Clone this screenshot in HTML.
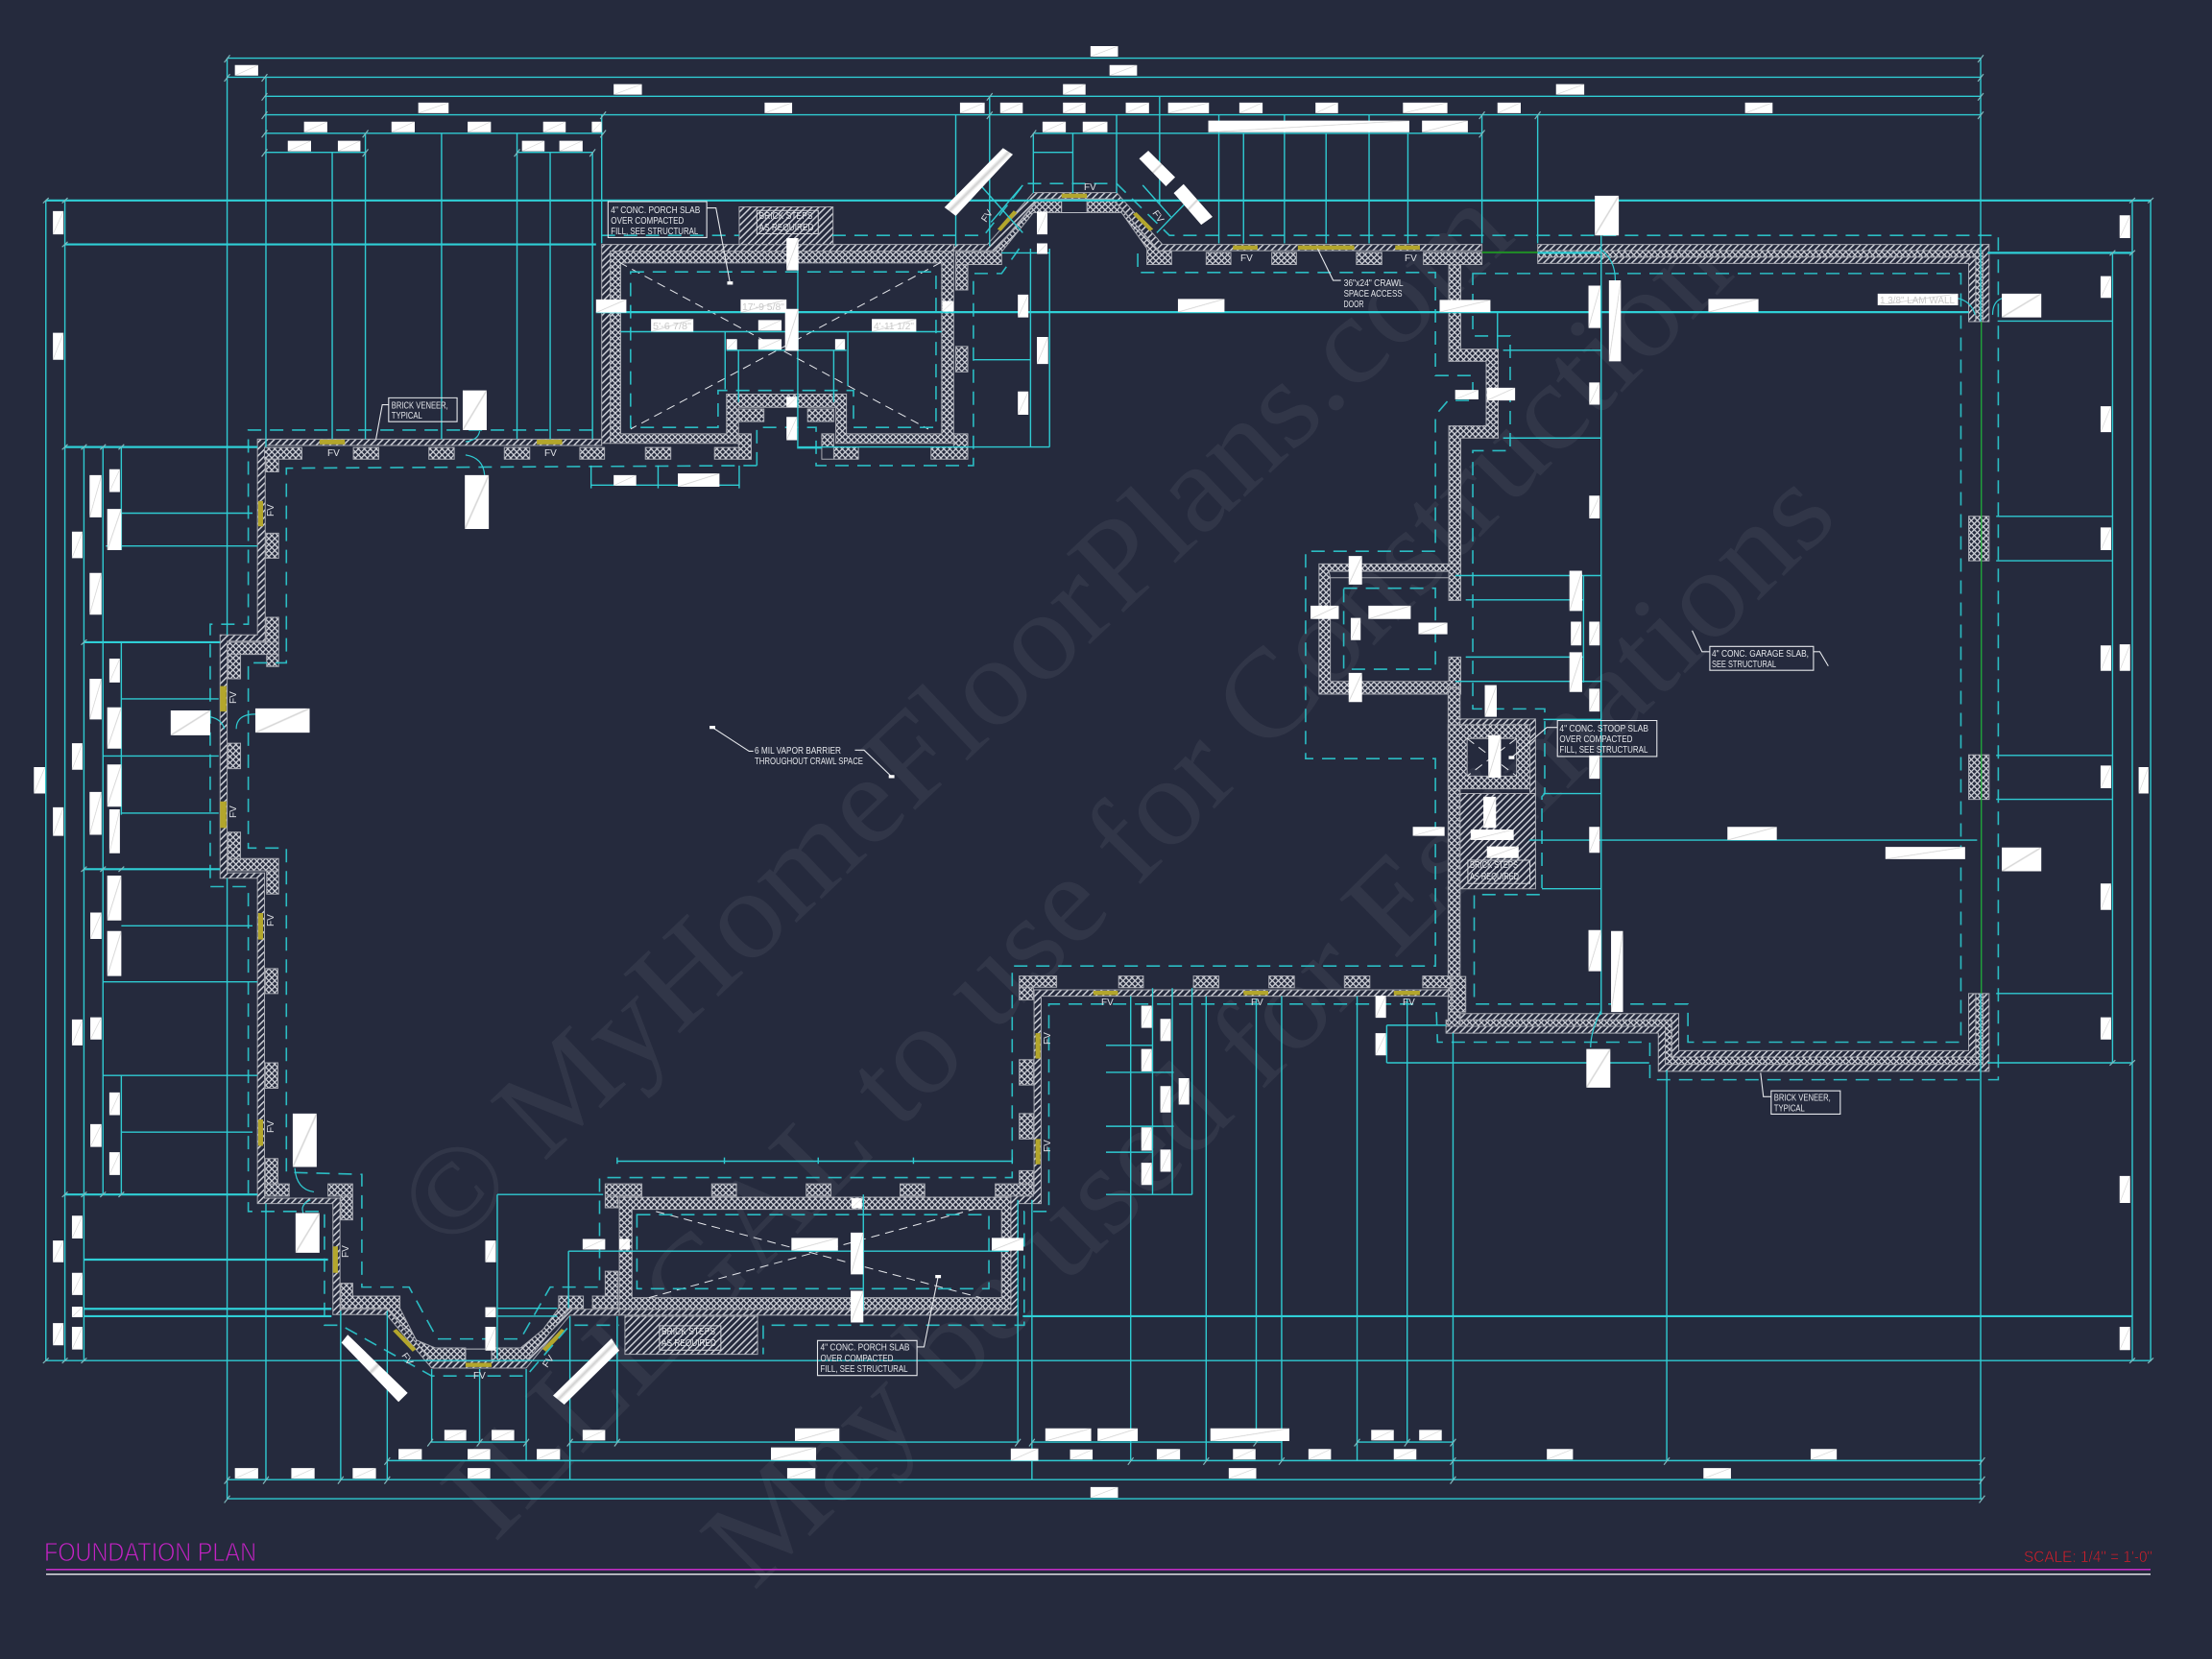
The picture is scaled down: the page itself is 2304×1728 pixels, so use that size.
<!DOCTYPE html>
<html><head><meta charset="utf-8"><title>Foundation Plan</title>
<style>
html,body{margin:0;padding:0;background:#252a3d}
svg{display:block}
svg *{vector-effect:non-scaling-stroke}
.n{font-family:"Liberation Sans",sans-serif;font-size:10.5px;fill:#e4e6ea}
.f{font-family:"Liberation Sans",sans-serif;font-size:10px;fill:#dfe1e6}
.w{font-family:"Liberation Serif",serif;font-size:130px;fill:#fff;fill-opacity:.06}
.l{font-family:"Liberation Sans",sans-serif;font-size:10px;fill:#c8c8c8}
</style></head><body>
<svg xmlns="http://www.w3.org/2000/svg" width="2304" height="1728" viewBox="0 0 2304 1728">
<defs>
<pattern id="h" width="5" height="5" patternUnits="userSpaceOnUse" patternTransform="scale(1.361,1.815) rotate(45)"><rect width="5" height="5" fill="#252a3d"/><rect width="1.5" height="5" fill="#cfd1d8"/></pattern>
<pattern id="x" width="4.4" height="4.4" patternUnits="userSpaceOnUse" patternTransform="scale(1.361,1.815) rotate(45)"><rect width="4.4" height="4.4" fill="#252a3d"/><rect width="1.25" height="4.4" fill="#d4d6dc"/><rect width="4.4" height="1.25" fill="#d4d6dc"/></pattern>
<linearGradient id="L" x1="0" y1="0" x2="1" y2="1"><stop offset="0" stop-color="#fff"/><stop offset=".47" stop-color="#fff"/><stop offset=".5" stop-color="#d0d0d0"/><stop offset=".53" stop-color="#fff"/><stop offset="1" stop-color="#fff"/></linearGradient>
</defs>
<rect width="2304" height="1728" fill="#252a3d"/>
<!-- watermark -->
<text class="w" transform="translate(465,1307) rotate(-43.5)" textLength="1538" lengthAdjust="spacingAndGlyphs">© MyHomeFloorPlans.com</text>
<text class="w" transform="translate(515,1608) rotate(-45.6)" textLength="1849" lengthAdjust="spacingAndGlyphs">ILLEGAL to use for Construction</text>
<text class="w" transform="translate(785,1658) rotate(-44.6)" textLength="1590" lengthAdjust="spacingAndGlyphs">May be used for Estimations</text>

<g transform="scale(.734694,.551020)">
<!-- brick/hatched areas -->
<g fill="url(#h)" stroke="#a8aab2" stroke-width="1">
<path d="M853 830H365V1200H312V1660H365V2275H472V2485H548L612 2586H746L808 2486H878V2475H802L742 2573H616L553 2475H482V2265H375V1650H322V1212H376V842H853z"/>
<path d="M2058 1871H1466V2255H1433V2475H878V2486H1443V2275H1476V1883H2058z"/>
<path d="M1352 462H1400L1465 364H1583L1648 462H2101V474H1643L1578 376H1472L1410 474H1352z"/>
<path d="M853 462H1352V475H865V838H853z"/>
<path d="M1048 391H1181V462H1048z"/>
<path d="M886 2488H1074V2560H886z"/>
<path d="M2180 462H2820V608H2811V474H2180z"/>
<path d="M2180 486H2801V608H2791V498H2180z"/>
<path d="M2070 1916H2380V1986H2791V1878H2801V1998H2370V1928H2070z"/>
<path d="M2050 1940H2361V2012H2811V1878H2820V2025H2351V1953H2050z"/>
<path d="M2062 1500H2177V1680H2070z"/>
<path d="M2062 1359H2177V1500H2169V1370H2062z"/>
</g>
<!-- crosshatch -->
<g fill="url(#x)" stroke="#a8aab2" stroke-width="1" fill-rule="evenodd">
<path d="M865 475H1352V838H1185V770H1047V838H865z M880 497H1335V820H1200V745H1030V820H880z"/>
<path d="M878 2263H1433V2475H878z M896 2286H1420V2453H896z"/>
<path d="M2180 474H2811V608H2801V486H2180z"/>
<path d="M2050 1928H2370V1998H2801V1878H2811V2012H2361V1940H2050z"/>
<path d="M2054 500H2071V660H2124V828H2071V1067H2054V805H2107V683H2054z"/>
<path d="M1870 1066H2071V1135H2054V1092H1886V1288H2054V1242H2071V1312H1870z M1884 1080H2054V1092H1886z"/>
<path d="M2053 1300H2070V1940H2053z"/>
<path d="M2053 1370H2169V1491H2053z M2080 1396H2150V1467H2080z"/>
<path d="M375 846H428V868H375z M501 846H537V868H501z M608 846H644V868H608z M715 846H751V868H715z M822 846H857V868H822z M915 846H951V868H915z M1013 846H1065V868H1013z"/>
<path d="M377 868H395V892H377z M377 1008H395V1055H377z M377 1167H395V1214H377z M322 1214H395V1237H322z M378 1237H395V1260H378z M323 1237H341V1283H323z M323 1405H341V1453H323z M323 1573H341V1623H323z M323 1623H395V1646H323z M378 1646H395V1690H378z"/>
<path d="M376 1831H394V1878H376z M376 2009H394V2057H376z M376 2190H394V2238H376z M376 2238H410V2261H376z M465 2238H500V2261H465z M483 2261H500V2306H483z M483 2426H500V2473H483z"/>
<path d="M500 2450H567V2473L590 2533L617 2548H660V2573H612L548 2473H483V2426H500z"/>
<path d="M697 2548H738L770 2513L792 2473V2450H827V2473H808L746 2573H697z"/>
<path d="M840 2450H876V2473H840z M858 2403H876V2450H858z"/>
<path d="M858 2238H910V2261H858z M876 2261H858V2283H876z M1009 2238H1044V2261H1009z M1143 2238H1178V2261H1143z M1276 2238H1311V2261H1276z M1411 2238H1465V2261H1411z M1445 2213H1465V2238H1445z M1445 2003H1465V2051H1445z M1445 2105H1465V2153H1445z M1445 1845H1498V1866H1445z M1445 1866H1465V1890H1445z"/>
<path d="M1586 1845H1621V1867H1586z M1692 1845H1728V1867H1692z M1799 1845H1835V1867H1799z M1906 1845H1942V1867H1906z M2017 1845H2056V1867H2017z M2058 1846H2078V1913H2058z"/>
<path d="M1047 773H1083V797H1047z M1145 773H1182V797H1145z M1047 820H1065V868H1047z M1165 820H1182V868H1165z M1165 845H1217V868H1165z M1320 845H1372V868H1320z M1352 820H1372V845H1352z M1355 500H1372V548H1355z M1355 655H1372V703H1355z"/>
<path d="M1355 476H1410L1472 378H1505V402H1465L1420 476V500H1355z"/>
<path d="M1541 377H1578L1643 475H1661V500H1626V470L1590 402H1541z"/>
<path d="M1710 477H1745V500H1710z M1803 477H1838V500H1803z M1923 477H1959V500H1923z M2018 477H2101V500H2018z"/>
<path d="M2791 976H2820V1060H2791z M2791 1427H2820V1511H2791z"/>
</g>
<g fill="#252a3d" stroke="#b8bac2" stroke-width="1"><path d="M1505 378H1541V402H1505z M660 2550H697V2572H660z"/></g>
<!-- yellow FV vents -->
<g fill="#b3a62c">
<path d="M453 831H489V840H453z M761 831H797V840H761z M366 947H373V995H366z M312 1297H321V1345H312z M312 1515H321V1565H312z M366 1726H373V1776H366z M366 2116H373V2166H366z M472 2356H479V2406H472z M660 2576H697V2584H660z M1468 1953H1475V2001H1468z M1468 2153H1475V2201H1468z M1550 1873H1585V1881H1550z M1763 1873H1798V1881H1763z M1976 1873H2013V1881H1976z M1505 366H1541V374H1505z M1748 464H1783V472H1748z M1840 464H1920V472H1840z M1978 464H2013V472H1978z"/>
<path d="M557 2516L562 2512L590 2550L585 2555z M796 2512L802 2516L774 2555L769 2550z M1414 433L1437 398L1442 402L1419 437z M1606 405L1611 401L1635 433L1630 437z"/>
</g>
<!-- green -->
<path d="M2101 477H2180" stroke="#1f8f25" stroke-width="2" fill="none"/>
<path d="M2809 608V1878" stroke="#1fb83a" stroke-width="1.2" fill="none"/>
<!-- dashed white X -->
<g fill="none" stroke="#e6e8ec" stroke-width="1" stroke-dasharray="9 6">
<path d="M878 496L1316 811M1334 496L894 811"/>
<path d="M930 2290L1390 2453M920 2453L1380 2286"/>
<path d="M2080 1396L2150 1467M2150 1396L2080 1467"/>
</g>
<!-- dashed cyan foundation -->
<g fill="none" stroke="#2bbcc3" stroke-width="1.6" stroke-dasharray="14 9">
<path d="M840 813H352V1180H298V1676H352V2290H460V2505H483L612 2601H746L808 2505H878"/>
<path d="M1073 880L406 885V1253H352V1603H406V2216L513 2220V2433H580L620 2531H738L780 2433H850V2226H1435V1826H2035V1434H1851V1042H2035V785L2053 757H2088V710H2035V515H1613V470"/>
<path d="M1073 880V808H1157V880H1380V517H1420L1445 470"/>
<path d="M853 445H1048M1180 445H1395L1452 347H1583L1658 445H2833V2041H2339V1970H2038L2036 1898H1487V2290H1452V2505H1082V2560"/>
<path d="M2088 517H2780V1970H2393V1898H2090V1691H2186V1506L2190 1500V1340H2088V852H2141V635H2088z"/>
<path d="M894 514H1327V808H1210V738H1018V808H894z"/>
<path d="M903 2296H1402V2436H903z"/>
<path d="M1905 1112H2035V1265H1905z"/>
</g>
<!-- dim lines thin -->
<g fill="none" stroke="#2fcbd2" stroke-width="1.4">
<path d="M322 110H2808M322 146H2808M375 182H2808M375 217H2808M375 252H855M1465 252H2101M375 288H518M733 288H840M1465 288H1521"/>
<path d="M322 110V1200M322 1660V2833M377 146V845M377 2275V2798M471 288V830M518 252V830M626 252V830M733 252V830M780 288V830M840 288V830M853 217V460M1355 217V465M1403 182V465M1465 252V365M1521 252V365M1583 217V365M1644 182V385M1728 217V460M1763 252V460M1821 217V460M1880 252V460M1941 217V460M1996 252V460M2101 217V460M2180 217V460M2808 110V608M2808 1878V2833"/>
<path d="M65 379V2572M92 379V2572M119 845V2572M146 845V2258M172 845V1040M172 1214V1540M172 2033V2258M3049 379V2572M3023 379V2572M2995 478V2009"/>
<path d="M65 2572H3050M92 845H365M172 970H358M150 1032H365M172 1321H310M146 1429H310M172 1537H310M172 1750H358M146 1856H365M146 2033H365M172 2140H358"/>
<path d="M838 917H1048M838 880V923M933 880V923M1048 880V923M880 627H1335M1030 662H1200M1028 627V736M1047 662V760M1182 662V760M1202 627V730M1131 500V847H1165M1132 845H1488M1380 680H1461M1420 478H1488M1461 470V845M1488 470V845"/>
<path d="M1390 350L1450 440M1405 420L1450 350M1620 350L1660 410M1640 440L1680 385"/>
<path d="M2123 590V660M2131 662H2270M2131 828H2270M2063 1088H2270M2078 1134H2245M2078 1242H2245M2063 1288H2270M2188 1360H2270M2188 1500H2270M2186 1680H2270M2245 1088V1290M2270 380V1918"/>
<path d="M2832 607H2995M2830 976H2995M2830 1060H2995M2830 1428H2995M2830 1511H2995M2830 1878H2995M2818 2009H3023M1966 1938V2009M1966 1938H2050M1966 2009H2338"/>
<path d="M1568 1976H1634M1568 2027H1664M1568 2129H1664M1568 2178H1634M1568 2258H1690M1634 1868V2258M1662 1868V2258M1690 1868V2258"/>
<path d="M705 2258H855M705 2258V2568M705 2473H790M705 2488H790M806 2365V2473M806 2365H1430M1224 2258V2478"/>
<path d="M875 2195H1435M875 2188V2200M1027 2188V2200M1160 2188V2200M1295 2188V2200M1435 2188V2200"/>
<path d="M610 2726H746M808 2726H1443M1463 2726H1818M1924 2726H2060M548 2761H2810M322 2797H2810M322 2833H2810"/>
<path d="M483 2478V2797M549 2478V2797M612 2588V2726M680 2588V2726M746 2588V2761M808 2488V2797M875 2488V2726M1443 2268V2726M1463 2268V2797M1603 1883V2761M1710 1883V2761M1781 1888V2726M1817 1883V2761M1924 1883V2761M1995 1888V2726M2060 1953V2797M2363 2023V2761"/>
<path d="M2168 1588H2803"/>
</g>
<!-- dim lines thick -->
<g fill="none" stroke="#2fcfd6" stroke-width="2.2">
<path d="M65 379H3050M92 462H845M92 845H365M119 1214H312M119 1643H312M92 2258H365M119 2381H465M119 2474H470M119 2488H470M1450 2488H3023M845 590H2791M2818 478H3023M2180 478H2268"/>
</g>
<!-- ticks -->
<g fill="none" stroke="#7fb8bc" stroke-width="1.2">
<path d="M318 118l8 -14M318 154l8 -14M371 154l8 -14M371 190l8 -14M371 225l8 -14M371 260l8 -14M371 296l8 -14M2804 118l8 -14M2804 154l8 -14M2804 190l8 -14M2804 225l8 -14M851 225l8 -14M851 260l8 -14M514 260l8 -14M514 296l8 -14M729 296l8 -14M836 296l8 -14M1399 190l8 -14M1399 225l8 -14M1461 260l8 -14M2097 225l8 -14M2097 260l8 -14M2176 225l8 -14"/>
<path d="M61 384l8 -10M88 384l8 -10M88 467l8 -10M88 850l8 -10M115 850l8 -10M142 850l8 -10M168 850l8 -10M115 1219l8 -10M115 1648l8 -10M142 1648l8 -10M168 1648l8 -10M3019 384l8 -10M3045 384l8 -10M3019 483l8 -10M2991 483l8 -10M2991 2014l8 -10M3019 2014l8 -10M61 2577l8 -10M88 2577l8 -10M115 2577l8 -10M3019 2577l8 -10M3045 2577l8 -10M88 2263l8 -10M115 2263l8 -10M142 2263l8 -10M168 2263l8 -10"/>
<path d="M318 2805l8 -14M318 2841l8 -14M373 2805l8 -14M479 2805l8 -14M545 2805l8 -14M545 2769l8 -14M606 2734l8 -14M676 2734l8 -14M742 2734l8 -14M804 2734l8 -14M871 2734l8 -14M1439 2734l8 -14M1459 2734l8 -14M2806 2769l8 -14M2806 2805l8 -14M2806 2841l8 -14M2056 2769l8 -14M2056 2805l8 -14M2056 2734l8 -14M1920 2734l8 -14M1991 2734l8 -14M1777 2734l8 -14M1813 2769l8 -14M1706 2769l8 -14M1599 2769l8 -14M2359 2769l8 -14"/>
</g>
<!-- curved leaders -->
<g fill="none" stroke="#2fcbd2" stroke-width="1.2">
<path d="M680 815Q678 832 660 835M660 860Q685 865 687 898M298 1355Q315 1360 318 1378M362 1350Q335 1350 335 1378M418 2208Q420 2248 445 2253M440 2268Q425 2278 430 2293"/>
<path d="M2268 470Q2290 490 2290 530M2776 564Q2795 570 2800 595M2838 564Q2825 570 2825 595M2270 1910Q2255 1950 2255 1980"/>
</g>
<!-- note boxes and leaders -->
<g fill="none" stroke="#e4e6ea" stroke-width="1.1">
<path d="M862 381H1002V449H862z M551 752H648V797H551z M2424 1222H2571V1267H2424z M2208 1362H2349V1430H2208z M2511 2062H2609V2106H2511z M1159 2534H1300V2600H1159z"/>
<path d="M1002 393H1015L1035 535M551 765H542L533 830M1010 1375L1062 1420H1068M1212 1418H1225L1264 1468M1868 470L1890 530H1901M2399 1192L2413 1232H2424M2571 1232H2580L2592 1259M2208 1375H2193L2143 1432M2496 2028L2500 2073H2511M1300 2546H1310L1330 2413"/>
</g>
<g fill="none" stroke="#d0d2d8" stroke-width="1"><path d="M1073 398H1160V442H1073z M935 2506H1022V2552H935z M2081 1626H2169V1670H2081z"/></g>
<g fill="#fff"><path d="M1031 532h8v6h-8z M1006 1372h8v6h-8z M1260 1465h8v6h-8z M1326 2410h8v6h-8z M2139 1429h8v6h-8z"/></g>
<!-- white dimension labels -->
<g fill="url(#L)">
<path d="M1546 87H1585V107H1546z"/><path d="M333 123H366V143H333z"/><path d="M870 159H910V179H870z"/><path d="M1507 159H1539V179H1507z"/><path d="M593 194H636V214H593z"/><path d="M1084 194H1123V214H1084z"/><path d="M1361 194H1396V214H1361z"/><path d="M1418 194H1450V214H1418z"/><path d="M1507 194H1539V214H1507z"/><path d="M431 230H464V250H431z"/><path d="M555 230H588V250H555z"/><path d="M663 230H696V250H663z"/><path d="M770 230H802V250H770z"/><path d="M839 230H853V250H839z"/><path d="M1478 230H1511V250H1478z"/><path d="M1535 230H1570V250H1535z"/><path d="M408 266H441V286H408z"/><path d="M479 266H511V286H479z"/><path d="M740 266H772V286H740z"/><path d="M793 266H826V286H793z"/>
<path d="M1573 123H1612V143H1573z"/><path d="M2206 159H2246V179H2206z"/><path d="M1596 194H1629V214H1596z"/><path d="M1656 194H1714V214H1656z"/><path d="M1757 194H1790V214H1757z"/><path d="M1865 194H1897V214H1865z"/><path d="M1989 194H2052V214H1989z"/><path d="M2123 194H2156V214H2123z"/><path d="M2474 194H2513V214H2474z"/><path d="M1713 228H1998V250H1713z"/><path d="M2016 228H2081V250H2016z"/>
<path d="M1422 280L1436 292L1355 408L1339 392z"/><path d="M1628 285L1666 335L1653 352L1615 300z"/><path d="M1678 348L1719 410L1703 425L1664 365z"/>
<path d="M493 2523L578 2633L565 2650L484 2538z"/><path d="M867 2530L878 2553L800 2655L784 2638z"/>
<path d="M75 399H90V443H75z"/><path d="M75 629H90V680H75z"/><path d="M1115 450H1132V511H1115z"/><path d="M845 566H888V591H845z"/><path d="M1050 566H1115V591H1050z"/><path d="M923 603H983V627H923z"/><path d="M1075 605H1108V625H1075z"/><path d="M1236 603H1299V627H1236z"/><path d="M1075 641H1108V661H1075z"/><path d="M1030 641H1045V661H1030z"/><path d="M1184 641H1198V661H1184z"/><path d="M1113 584H1132V663H1113z"/><path d="M1336 569H1352V589H1336z"/><path d="M1443 557H1458V600H1443z"/><path d="M1470 637H1486V688H1470z"/><path d="M1443 740H1458V784H1443z"/><path d="M1470 400H1485V443H1470z"/><path d="M1470 460H1485V480H1470z"/><path d="M1115 750H1130V770H1115z"/><path d="M1115 788H1130V832H1115z"/><path d="M656 738H690V813H656z"/><path d="M659 898H693V1000H659z"/><path d="M870 898H902V918H870z"/><path d="M961 895H1020V920H961z"/>
<path d="M127 898H144V978H127z"/><path d="M155 887H170V930H155z"/><path d="M152 962H172V1040H152z"/><path d="M102 1005H117V1055H102z"/><path d="M127 1083H144V1162H127z"/><path d="M155 1245H170V1290H155z"/><path d="M127 1283H144V1360H127z"/><path d="M152 1337H172V1415H152z"/><path d="M102 1405H117V1455H102z"/><path d="M127 1497H144V1578H127z"/><path d="M152 1445H172V1525H152z"/><path d="M48 1450H64V1500H48z"/><path d="M75 1526H90V1580H75z"/><path d="M155 1530H170V1613H155z"/><path d="M242 1343H298V1390H242z"/><path d="M362 1339H439V1385H362z"/>
<path d="M152 1655H172V1740H152z"/><path d="M128 1725H144V1775H128z"/><path d="M152 1760H172V1845H152z"/><path d="M102 1927H117V1976H102z"/><path d="M128 1923H144V1965H128z"/><path d="M155 2065H170V2108H155z"/><path d="M128 2125H144V2168H128z"/><path d="M155 2178H170V2221H155z"/><path d="M102 2298H117V2341H102z"/><path d="M75 2345H90V2386H75z"/><path d="M102 2406H117V2448H102z"/><path d="M102 2470H117V2490H102z"/><path d="M75 2501H90V2543H75z"/><path d="M102 2508H117V2551H102z"/>
<path d="M415 2105H449V2206H415z"/><path d="M419 2293H453V2368H419z"/><path d="M688 2345H703V2386H688z"/><path d="M688 2471H703V2490H688z"/><path d="M688 2508H703V2553H688z"/><path d="M826 2342H858V2362H826z"/><path d="M878 2342H893V2362H878z"/><path d="M1122 2340H1188V2364H1122z"/><path d="M1206 2330H1224V2409H1206z"/><path d="M1206 2440H1224V2500H1206z"/><path d="M1406 2340H1451V2364H1406z"/><path d="M1207 2265H1222V2284H1207z"/>
<path d="M630 2703H661V2723H630z"/><path d="M697 2703H729V2723H697z"/><path d="M826 2703H858V2723H826z"/><path d="M1127 2700H1190V2724H1127z"/><path d="M1482 2700H1547V2724H1482z"/><path d="M1556 2700H1613V2724H1556z"/><path d="M565 2739H598V2759H565z"/><path d="M663 2739H695V2759H663z"/><path d="M761 2739H794V2759H761z"/><path d="M1093 2736H1157V2760H1093z"/><path d="M1433 2738H1472V2761H1433z"/><path d="M1517 2740H1549V2759H1517z"/><path d="M333 2775H366V2795H333z"/><path d="M413 2775H446V2795H413z"/><path d="M500 2775H533V2795H500z"/><path d="M663 2775H695V2795H663z"/><path d="M1116 2775H1156V2795H1116z"/><path d="M1546 2811H1585V2831H1546z"/>
<path d="M1716 2700H1828V2724H1716z"/><path d="M1944 2703H1976V2723H1944z"/><path d="M2012 2703H2044V2723H2012z"/><path d="M1640 2739H1673V2759H1640z"/><path d="M1748 2739H1780V2759H1748z"/><path d="M1855 2739H1887V2759H1855z"/><path d="M1976 2739H2008V2759H1976z"/><path d="M2193 2739H2230V2759H2193z"/><path d="M2567 2739H2604V2759H2567z"/><path d="M1742 2775H1781V2795H1742z"/><path d="M2415 2775H2454V2795H2415z"/>
<path d="M1618 1901H1633V1943H1618z"/><path d="M1645 1926H1660V1968H1645z"/><path d="M1618 1983H1633V2025H1618z"/><path d="M1645 2053H1660V2103H1645z"/><path d="M1671 2038H1686V2088H1671z"/><path d="M1618 2131H1633V2175H1618z"/><path d="M1645 2173H1660V2215H1645z"/><path d="M1618 2198H1633V2240H1618z"/><path d="M1950 1882H1965V1924H1950z"/><path d="M1950 1953H1965V1995H1950z"/><path d="M2249 1983H2283V2056H2249z"/><path d="M2252 1758H2270V1836H2252z"/><path d="M2284 1760H2301V1913H2284z"/>
<path d="M2978 1670H2993V1720H2978z"/><path d="M2978 1923H2993V1965H2978z"/><path d="M3005 2223H3020V2274H3005z"/><path d="M3005 2508H3020V2552H3005z"/><path d="M2838 1602H2894V1647H2838z"/><path d="M2673 1601H2786V1624H2673z"/><path d="M2085 1568H2146V1588H2085z"/><path d="M2108 1600H2153V1622H2108z"/><path d="M2003 1563H2048V1580H2003z"/><path d="M2449 1563H2519V1588H2449z"/><path d="M2253 1563H2268V1612H2253z"/>
<path d="M2261 370H2295V445H2261z"/><path d="M1670 565H1736V590H1670z"/><path d="M2041 567H2113V590H2041z"/><path d="M2422 565H2493V590H2422z"/><path d="M2252 540H2269V620H2252z"/><path d="M2281 530H2298V683H2281z"/><path d="M2662 555H2776V577H2662z"/><path d="M2838 555H2894V600H2838z"/><path d="M3005 407H3020V450H3005z"/><path d="M2978 522H2993V563H2978z"/><path d="M2978 768H2993V817H2978z"/><path d="M2978 997H2993V1040H2978z"/><path d="M2978 1220H2993V1268H2978z"/><path d="M3005 1218H3020V1268H3005z"/><path d="M2978 1447H2993V1490H2978z"/><path d="M3032 1450H3046V1500H3032z"/>
<path d="M2063 737H2096V755H2063z"/><path d="M2108 733H2148V757H2108z"/><path d="M2253 723H2268V765H2253z"/><path d="M2253 937H2268V980H2253z"/><path d="M2225 1079H2243V1155H2225z"/><path d="M2227 1175H2242V1220H2227z"/><path d="M2253 1175H2268V1220H2253z"/><path d="M2225 1233H2243V1308H2225z"/><path d="M2253 1302H2268V1345H2253z"/><path d="M2253 1428H2268V1472H2253z"/><path d="M2105 1295H2122V1355H2105z"/><path d="M1912 1051H1931V1105H1912z"/><path d="M1858 1145H1898V1170H1858z"/><path d="M1940 1145H2000V1170H1940z"/><path d="M2011 1177H2052V1199H2011z"/><path d="M1915 1168H1929V1210H1915z"/><path d="M1912 1272H1931V1327H1912z"/><path d="M2110 1390H2128V1470H2110z"/><path d="M2103 1506H2121V1565H2103z"/>
</g>
</g>

<!-- faint label text -->
<g>
<text class="l" x="773" y="323" textLength="44" lengthAdjust="spacingAndGlyphs">17'-9 5/8"</text>
<text class="l" x="680" y="343" textLength="40" lengthAdjust="spacingAndGlyphs">5'-6 7/8"</text>
<text class="l" x="910" y="343" textLength="42" lengthAdjust="spacingAndGlyphs">4'-11 1/2"</text>
<text class="l" x="1958" y="316" textLength="78" lengthAdjust="spacingAndGlyphs">1 3/8" LAM WALL</text>
</g>

<!-- notes -->
<g>
<text class="n" x="636.3" y="222" textLength="93" lengthAdjust="spacingAndGlyphs">4" CONC. PORCH SLAB</text>
<text class="n" x="636.3" y="233" textLength="76" lengthAdjust="spacingAndGlyphs">OVER  COMPACTED</text>
<text class="n" x="636.3" y="244" textLength="91" lengthAdjust="spacingAndGlyphs">FILL, SEE STRUCTURAL</text>
<text class="n" x="790.5" y="228" textLength="56" lengthAdjust="spacingAndGlyphs">BRICK STEPS</text>
<text class="n" x="790.5" y="240" textLength="57" lengthAdjust="spacingAndGlyphs">AS REQUIRED</text>
<text class="n" x="407.8" y="425.4" textLength="59" lengthAdjust="spacingAndGlyphs">BRICK VENEER,</text>
<text class="n" x="407.8" y="436" textLength="32" lengthAdjust="spacingAndGlyphs">TYPICAL</text>
<text class="n" x="786" y="785" textLength="90" lengthAdjust="spacingAndGlyphs">6 MIL VAPOR BARRIER</text>
<text class="n" x="786" y="796" textLength="113" lengthAdjust="spacingAndGlyphs">THROUGHOUT CRAWL SPACE</text>
<text class="n" x="1399.6" y="298" textLength="62" lengthAdjust="spacingAndGlyphs">36"x24" CRAWL</text>
<text class="n" x="1399.6" y="309" textLength="61" lengthAdjust="spacingAndGlyphs">SPACE ACCESS</text>
<text class="n" x="1399.6" y="320" textLength="21" lengthAdjust="spacingAndGlyphs">DOOR</text>
<text class="n" x="1783" y="684" textLength="101" lengthAdjust="spacingAndGlyphs">4" CONC. GARAGE SLAB,</text>
<text class="n" x="1783" y="695" textLength="67" lengthAdjust="spacingAndGlyphs">SEE STRUCTURAL</text>
<text class="n" x="1624.4" y="762" textLength="92.6" lengthAdjust="spacingAndGlyphs">4" CONC. STOOP SLAB</text>
<text class="n" x="1624.4" y="773" textLength="76" lengthAdjust="spacingAndGlyphs">OVER  COMPACTED</text>
<text class="n" x="1624.4" y="784" textLength="92" lengthAdjust="spacingAndGlyphs">FILL, SEE STRUCTURAL</text>
<text class="n" x="1531" y="904" textLength="50" lengthAdjust="spacingAndGlyphs">BRICK STEPS</text>
<text class="n" x="1531" y="916" textLength="51" lengthAdjust="spacingAndGlyphs">AS REQUIRED</text>
<text class="n" x="1847.8" y="1146.6" textLength="59" lengthAdjust="spacingAndGlyphs">BRICK VENEER,</text>
<text class="n" x="1847.8" y="1157.5" textLength="32" lengthAdjust="spacingAndGlyphs">TYPICAL</text>
<text class="n" x="854.5" y="1406.7" textLength="93" lengthAdjust="spacingAndGlyphs">4" CONC. PORCH SLAB</text>
<text class="n" x="854.5" y="1417.8" textLength="76" lengthAdjust="spacingAndGlyphs">OVER  COMPACTED</text>
<text class="n" x="854.5" y="1428.8" textLength="91" lengthAdjust="spacingAndGlyphs">FILL, SEE STRUCTURAL</text>
<text class="n" x="689" y="1390" textLength="56" lengthAdjust="spacingAndGlyphs">BRICK STEPS</text>
<text class="n" x="689" y="1402" textLength="57" lengthAdjust="spacingAndGlyphs">AS REQUIRED</text>
</g>
<!-- FV tags -->
<g>
<text class="f" x="341" y="475">FV</text><text class="f" x="567" y="475">FV</text>
<text class="f" x="1129" y="198">FV</text><text class="f" x="1292" y="272">FV</text><text class="f" x="1463" y="272">FV</text>
<text class="f" x="493" y="1436">FV</text><text class="f" x="1303" y="1047">FV</text><text class="f" x="1147" y="1047">FV</text><text class="f" x="1461" y="1047">FV</text>
<text class="f" transform="translate(285,538) rotate(-90)">FV</text>
<text class="f" transform="translate(246,733) rotate(-90)">FV</text>
<text class="f" transform="translate(246,852) rotate(-90)">FV</text>
<text class="f" transform="translate(285,965) rotate(-90)">FV</text>
<text class="f" transform="translate(285,1180) rotate(-90)">FV</text>
<text class="f" transform="translate(363,1310) rotate(-90)">FV</text>
<text class="f" transform="translate(1094,1088) rotate(-90)">FV</text>
<text class="f" transform="translate(1094,1200) rotate(-90)">FV</text>
<text class="f" transform="translate(418,1412) rotate(55)">FV</text>
<text class="f" transform="translate(570,1425) rotate(-55)">FV</text>
<text class="f" transform="translate(1027,232) rotate(-55)">FV</text>
<text class="f" transform="translate(1200,222) rotate(55)">FV</text>
</g>
<!-- title block -->
<text x="46" y="1626" textLength="221" lengthAdjust="spacingAndGlyphs" style="font-family:'Liberation Sans',sans-serif;font-size:28px;fill:#c422c4;stroke:#252a3d;stroke-width:.9">FOUNDATION PLAN</text>
<text x="2108" y="1627" textLength="134" lengthAdjust="spacingAndGlyphs" style="font-family:'Liberation Sans',sans-serif;font-size:17px;fill:#d81e2a;stroke:#252a3d;stroke-width:.5">SCALE: 1/4" = 1'-0"</text>
<rect x="48" y="1634" width="2192" height="1.6" fill="#c02cc4"/>
<rect x="48" y="1639" width="2192" height="1.4" fill="#e8e8ee"/>
</svg>
</body></html>
